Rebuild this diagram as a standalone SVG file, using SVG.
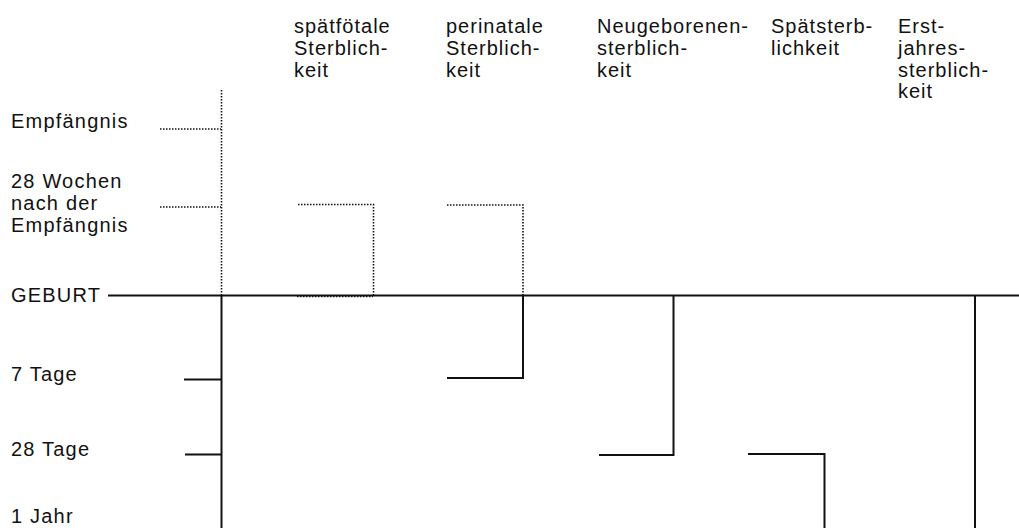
<svg xmlns="http://www.w3.org/2000/svg" width="1019" height="528" viewBox="0 0 1019 528">
<style>
text{font-family:"Liberation Sans",Arial,sans-serif;fill:#111}
.lab{font-size:20px;letter-spacing:1.2px}
.hd{font-size:20px;letter-spacing:1px}
.solid{stroke:#111;stroke-width:2;fill:none}
.dot{stroke:#111;stroke-width:1.6;stroke-dasharray:1.5 1.5;fill:none}
</style>
<rect width="1019" height="528" fill="#fff"/>
<g id="labels">
<text class="lab" x="11" y="128">Empfängnis</text>
<text class="lab" x="11" y="188">28 Wochen</text>
<text class="lab" x="11" y="210">nach der</text>
<text class="lab" x="11" y="232">Empfängnis</text>
<text class="lab" x="11" y="302">GEBURT</text>
<text class="lab" x="11" y="381">7 Tage</text>
<text class="lab" x="11" y="456">28 Tage</text>
<text class="lab" x="11" y="523">1 Jahr</text>
</g>
<g id="node-spaetfoetal">
<text class="hd" x="294" y="33">spätfötale</text>
<text class="hd" x="294" y="55">Sterblich-</text>
<text class="hd" x="294" y="77">keit</text>
</g>
<g id="node-perinatal">
<text class="hd" x="446" y="33">perinatale</text>
<text class="hd" x="446" y="55">Sterblich-</text>
<text class="hd" x="446" y="77">keit</text>
</g>
<g id="node-neugeborenen">
<text class="hd" x="597" y="33">Neugeborenen-</text>
<text class="hd" x="597" y="55">sterblich-</text>
<text class="hd" x="597" y="77">keit</text>
</g>
<g id="node-spaet">
<text class="hd" x="771" y="33">Spätsterb-</text>
<text class="hd" x="771" y="55">lichkeit</text>
</g>
<g id="node-erstjahres">
<text class="hd" x="898" y="33">Erst-</text>
<text class="hd" x="898" y="55">jahres-</text>
<text class="hd" x="898" y="76.5">sterblich-</text>
<text class="hd" x="898" y="98">keit</text>
</g>
<g id="connectors">
<line class="solid" x1="108" y1="295.5" x2="1019" y2="295.5"/>
<line class="dot" x1="221.5" y1="90" x2="221.5" y2="295"/>
<line class="solid" x1="221.5" y1="295" x2="221.5" y2="528"/>
<line class="dot" x1="160" y1="129" x2="221" y2="129"/>
<line class="dot" x1="160" y1="207" x2="221" y2="207"/>
<line class="solid" x1="184" y1="379.5" x2="221" y2="379.5"/>
<line class="solid" x1="185" y1="454.5" x2="221" y2="454.5"/>
<polyline class="dot" points="298,204.5 373.5,204.5 373.5,295"/>
<line class="dot" x1="297" y1="296.5" x2="373" y2="296.5"/>
<polyline class="dot" points="447,205 523,205 523,295"/>
<polyline class="solid" points="523,295 523,378 447,378"/>
<polyline class="solid" points="673.5,296 673.5,455 599,455"/>
<polyline class="solid" points="748,454 824.5,454 824.5,528"/>
<line class="solid" x1="975" y1="296" x2="975" y2="528"/>
</g>
</svg>
